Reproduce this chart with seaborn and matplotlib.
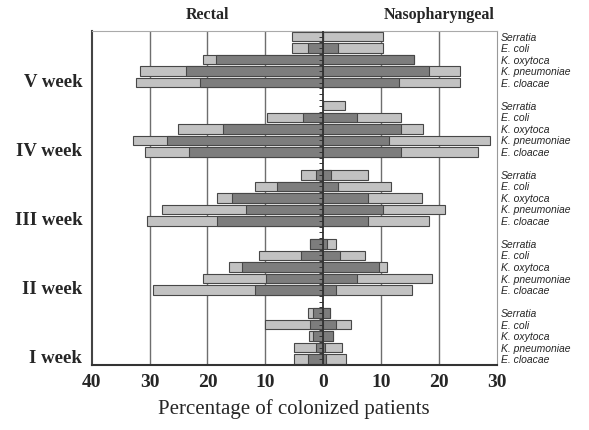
import numpy as np
import pandas as pd
import matplotlib.pyplot as plt
import seaborn as sns
from matplotlib import transforms

weeks = ["V week", "IV week", "III week", "II week", "I week"]
species = ["Serratia", "E. coli", "K. oxytoca", "K. pneumoniae", "E. cloacae"]

# percentages, one list per week (top to bottom), species order as above
rectal_total = [
    [5.4, 5.4, 20.7, 31.7, 32.3],
    [0.0, 9.7, 25.1, 32.9, 30.8],
    [3.9, 11.8, 18.4, 27.8, 30.4],
    [2.3, 11.1, 16.3, 20.7, 29.4],
    [2.6, 10.1, 2.5, 5.1, 5.1],
]
rectal_dark = [
    [0.0, 2.6, 18.6, 23.7, 21.3],
    [0.0, 3.5, 17.4, 27.0, 23.2],
    [1.3, 8.0, 15.8, 13.3, 18.4],
    [2.3, 3.8, 14.0, 9.8, 11.8],
    [1.8, 2.3, 1.7, 1.3, 2.6],
]
naso_total = [
    [10.4, 10.4, 15.7, 23.7, 23.7],
    [3.8, 13.4, 17.2, 28.8, 26.8],
    [7.8, 11.7, 17.1, 21.1, 18.3],
    [2.2, 7.3, 11.0, 18.8, 15.3],
    [1.2, 4.9, 1.7, 3.2, 4.0],
]
naso_dark = [
    [0.0, 2.65, 15.7, 18.3, 13.1],
    [0.0, 5.8, 13.4, 11.4, 13.4],
    [1.3, 2.65, 7.8, 10.4, 7.8],
    [0.7, 2.9, 9.6, 5.9, 2.2],
    [1.2, 2.2, 1.7, 0.35, 0.5],
]

rows = []
for g, week in enumerate(weeks):
    for i, sp in enumerate(species):
        rows.append(dict(slot=g * 6 + i, week=week, species=sp,
                         rect_tot=-rectal_total[g][i], rect_dark=-rectal_dark[g][i],
                         naso_tot=naso_total[g][i], naso_dark=naso_dark[g][i]))
df = pd.DataFrame(rows)

sns.set_style("white")
plt.rcParams['font.family'] = ['Liberation Serif', 'DejaVu Serif']

fig, ax = plt.subplots(figsize=(5.89, 4.31), dpi=100)
fig.subplots_adjust(left=0.156, right=0.843, top=0.926, bottom=0.151)

light = "#c2c2c2"
dark = "#7d7d7d"
edge = "#474747"

for v in [-30, -20, -10, 10, 20]:
    ax.axvline(v, color="#6e6e6e", lw=1.0, zorder=0)

for col, c in [("rect_tot", light), ("naso_tot", light),
               ("rect_dark", dark), ("naso_dark", dark)]:
    sns.barplot(data=df, x=col, y="slot", orient="h", native_scale=True,
                color=c, saturation=1, edgecolor=edge, linewidth=0.8,
                width=0.82, errorbar=None, ax=ax)

# centre line with little ticks
ax.axvline(0, color="#333333", lw=1.3, zorder=4)
half = np.arange(0, 29, 0.5)
ax.plot(np.full(len(half), -0.35), half, ls="none", marker="_", ms=2.5,
        mew=0.7, color="#333333", zorder=5)

ax.set_xlim(-40, 30)
ax.set_ylim(28.5, -0.5)

xt = list(range(-40, 31, 10))
ax.set_xticks(xt)
ax.set_xticklabels([str(abs(t)) for t in xt], fontsize=14, fontweight="bold")
ax.set_yticks([g * 6 + 3.7 for g in range(len(weeks))])
ax.set_yticklabels(weeks, fontsize=13.5, fontweight="bold")
ax.tick_params(axis="x", direction="out", length=4, width=1, pad=2, color="#333333")
ax.tick_params(axis="y", length=0, pad=7)

ax.set_xlabel("Percentage of colonized patients", fontsize=15, labelpad=6)
ax.set_ylabel("")

for s, (c, w) in {"left": ("#444444", 1.5), "bottom": ("#333333", 1.5),
                  "top": ("#aaaaaa", 0.8), "right": ("#999999", 0.8)}.items():
    ax.spines[s].set_color(c)
    ax.spines[s].set_linewidth(w)

trans = transforms.blended_transform_factory(ax.transAxes, ax.transData)
for _, r in df.iterrows():
    ax.text(1.01, r["slot"], r["species"], transform=trans, ha="left", va="center",
            fontsize=7.5, fontstyle="italic", family=["Liberation Sans", "DejaVu Sans"])

trans2 = transforms.blended_transform_factory(ax.transData, ax.transAxes)
ax.text(-20, 1.05, "Rectal", transform=trans2, ha="center", va="center",
        fontsize=11.5, fontweight="bold")
ax.text(20, 1.05, "Nasopharyngeal", transform=trans2, ha="center", va="center",
        fontsize=11.5, fontweight="bold")

plt.savefig("out.png", dpi=100)
